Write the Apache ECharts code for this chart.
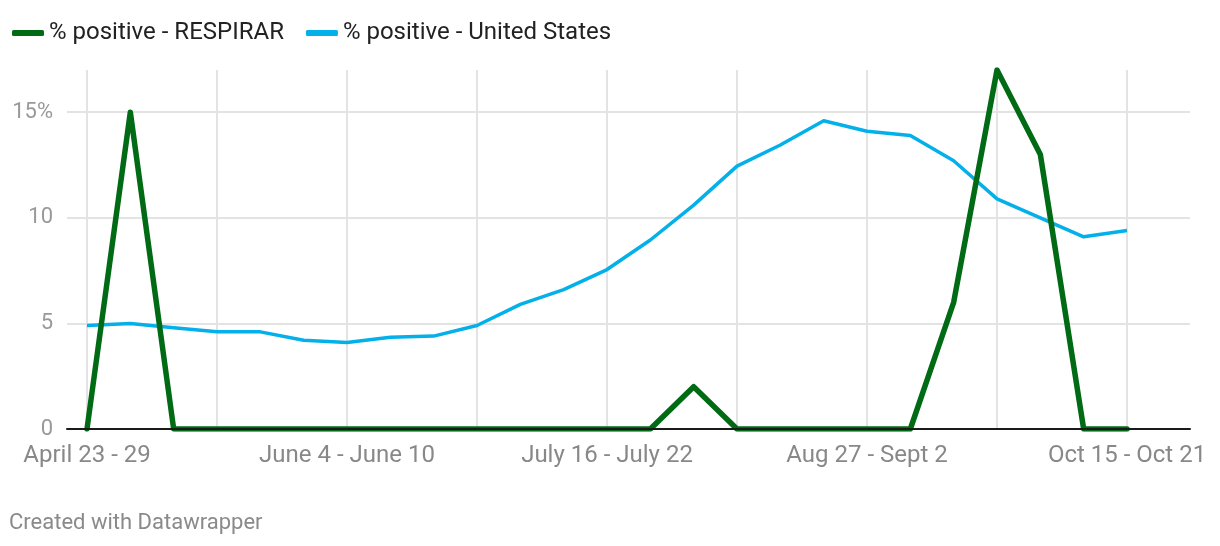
<!DOCTYPE html>
<html>
<head>
    <meta charset="utf-8">
    <title>% positive</title>
    <script src="https://cdn.jsdelivr.net/npm/echarts@6/dist/echarts.min.js"></script>
    <style>
        html, body {
            margin: 0;
            padding: 0;
            background: #fff;
        }
        #main {
            width: 1220px;
            height: 546px;
        }
    </style>
</head>
<body>
<div id="main"></div>

<script type="text/javascript">
    // weekly categories (only every 6th is labelled)
    var weeks = [
        'April 23 - 29', 'April 30 - May 6', 'May 7 - May 13', 'May 14 - May 20', 'May 21 - May 27',
        'May 28 - June 3', 'June 4 - June 10', 'June 11 - June 17', 'June 18 - June 24', 'June 25 - July 1',
        'July 2 - July 8', 'July 9 - July 15', 'July 16 - July 22', 'July 23 - July 29', 'July 30 - Aug 5',
        'Aug 6 - Aug 12', 'Aug 13 - Aug 19', 'Aug 20 - Aug 26', 'Aug 27 - Sept 2', 'Sept 3 - Sept 9',
        'Sept 10 - Sept 16', 'Sept 17 - Sept 23', 'Sept 24 - Sept 30', 'Oct 1 - Oct 7', 'Oct 15 - Oct 21'
    ];

    var respirar = [0, 15, 0, 0, 0, 0, 0, 0, 0, 0, 0, 0, 0, 0, 2, 0, 0, 0, 0, 0, 6, 17, 13, 0, 0];

    var unitedStates = [4.9, 5.0, 4.8, 4.6, 4.6, 4.2, 4.1, 4.35, 4.4, 4.9, 5.9, 6.6, 7.55, 8.95, 10.6,
        12.45, 13.45, 14.6, 14.1, 13.9, 12.7, 10.9, 10.0, 9.1, 9.4];

    var myChart = echarts.init(document.getElementById('main'));

    var textFont = 'Roboto, "Noto Sans", sans-serif';

    var option = {
        animation: false,
        backgroundColor: '#ffffff',
        textStyle: { fontFamily: textFont },
        legend: {
            left: 7,
            top: 16,
            itemWidth: 32,
            itemHeight: 6,
            itemGap: 22,
            icon: 'roundRect',
            textStyle: { fontSize: 24, color: '#222', fontFamily: textFont },
            data: ['% positive - RESPIRAR', '% positive - United States']
        },
        graphic: [{
            type: 'text',
            left: 9,
            top: 512,
            style: {
                text: 'Created with Datawrapper',
                fontSize: 22,
                fill: '#8a8a8a',
                fontFamily: textFont
            }
        }],
        grid: [
            // backdrop: horizontal gridlines + baseline, wider than the data
            {left: 67, right: 30, top: 112, bottom: 117},
            // data area
            {left: 87, right: 93, top: 70, bottom: 117}
        ],
        xAxis: [
            {
                gridIndex: 0, type: 'value', min: 0, max: 1, z: 10,
                axisLine: { show: true, lineStyle: { color: '#1a1a1a', width: 2 } },
                axisTick: { show: false },
                axisLabel: { show: false },
                splitLine: { show: false }
            },
            {
                gridIndex: 1, type: 'category', boundaryGap: false, data: weeks,
                axisLine: { show: false },
                axisTick: { show: false },
                axisLabel: {
                    interval: 5,
                    margin: 15,
                    fontSize: 24,
                    color: '#888',
                    fontFamily: textFont
                },
                splitLine: {
                    show: true,
                    interval: 2,
                    lineStyle: { color: '#e3e3e3', width: 2 }
                }
            }
        ],
        yAxis: [
            {
                gridIndex: 0, type: 'value', min: 0, max: 15, interval: 5,
                axisLine: { show: false },
                axisTick: { show: false },
                axisLabel: {
                    margin: 14,
                    fontSize: 22,
                    color: '#999',
                    fontFamily: textFont,
                    formatter: function (v) { return v === 15 ? '15%' : String(v); }
                },
                splitLine: { lineStyle: { color: '#e3e3e3', width: 2 } }
            },
            {
                gridIndex: 1, type: 'value', min: 0, max: 17,
                show: false,
                splitLine: { show: false }
            }
        ],
        series: [
            {
                name: '% positive - RESPIRAR',
                type: 'line',
                xAxisIndex: 1,
                yAxisIndex: 1,
                data: respirar,
                showSymbol: false,
                z: 3,
                color: '#006b14',
                lineStyle: { width: 5.5, color: '#006b14', join: 'round', cap: 'round' }
            },
            {
                name: '% positive - United States',
                type: 'line',
                xAxisIndex: 1,
                yAxisIndex: 1,
                data: unitedStates,
                showSymbol: false,
                z: 2,
                color: '#03b0ea',
                lineStyle: { width: 3.5, color: '#03b0ea', join: 'round' }
            }
        ]
    };

    myChart.setOption(option);
</script>
</body>
</html>
